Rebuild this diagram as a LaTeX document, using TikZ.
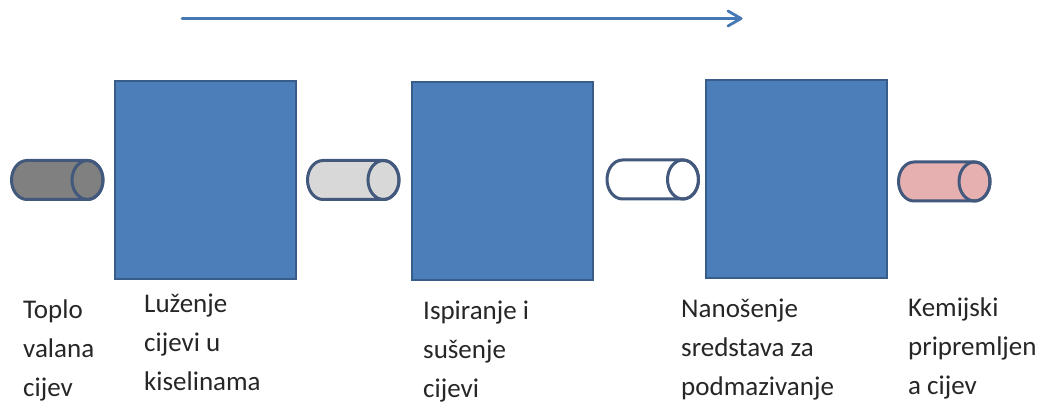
\documentclass[tikz,border=0pt]{standalone}
\usepackage{fontspec}
\setmainfont{Carlito}
\definecolor{boxblue}{RGB}{76,126,186}
\definecolor{boxedge}{RGB}{56,93,138}
\definecolor{tubeedge}{RGB}{66,88,125}
\definecolor{arrowblue}{RGB}{70,120,180}
\definecolor{tubedark}{RGB}{128,128,128}
\definecolor{tubelight}{RGB}{216,216,216}
\definecolor{tubepink}{RGB}{230,176,176}
\tikzset{
  stage/.style={draw=boxedge,line width=1.6pt,fill=boxblue,rectangle,minimum width=181pt,minimum height=198pt,inner sep=0pt,anchor=north west},
  label/.style={anchor=north west,align=left,inner sep=0pt,text=black!85,font=\fontsize{27pt}{39pt}\selectfont},
  tube/.pic={
    \path[draw=tubeedge,line width=3pt,fill=\pgfkeysvalueof{/tikz/tubefill}]
      (15.5,0) -- (76,0) arc[start angle=-90,end angle=90,x radius=15.5,y radius=19.5]
      -- (15.5,39) arc[start angle=90,end angle=270,x radius=15.5,y radius=19.5] -- cycle;
    \path[draw=tubeedge,line width=3pt] (76,19.5) ellipse[x radius=15.5,y radius=19.5];
  },
  tubefill/.initial=white
}
\begin{document}
\begin{tikzpicture}[x=1pt,y=-1pt]
\useasboundingbox (0,0) rectangle (1044,403);
\coordinate (flowstart) at (182,18.5);
\coordinate (flowend) at (741,18.5);
\draw[arrowblue,line width=2.8pt,line cap=round,line join=round] (flowstart) -- (flowend);
\draw[arrowblue,line width=2.8pt,line cap=round,line join=round] (728,11) -- (741,18.5) -- (728,26);
\node[stage] (s1) at (114,80) {};
\node[stage] (s2) at (411,81) {};
\node[stage] (s3) at (705,79) {};
\pic[tubefill=tubedark] at (11.5,160.5) {tube};
\pic[tubefill=tubelight] at (307.5,160.5) {tube};
\pic[tubefill=white] at (607,160) {tube};
\pic[tubefill=tubepink] at (898.5,162) {tube};
\node[label] (t1) at (23,300) {Toplo\\valana\\cijev};
\node[label] (t2) at (144,294) {Luženje\\cijevi u\\kiselinama};
\node[label] (t3) at (423,301) {Ispiranje i\\sušenje\\cijevi};
\node[label] (t4) at (681,298.5) {Nanošenje\\sredstava za\\podmazivanje};
\node[label] (t5) at (908,298) {Kemijski\\pripremljen\\a cijev};
\end{tikzpicture}
\end{document}
